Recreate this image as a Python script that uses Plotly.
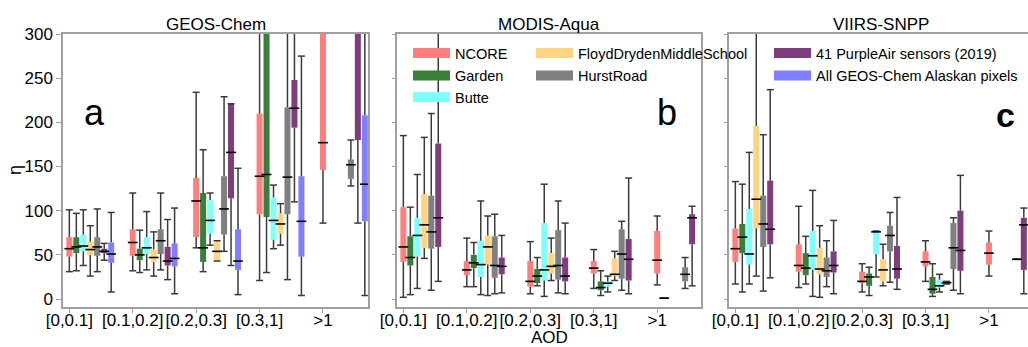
import plotly.graph_objects as go

# ---------------- data ----------------
groups = ["[0,0.1]", "[0.1,0.2]", "[0.2,0.3]", "[0.3,1]", ">1"]
series = ["NCORE", "Garden", "Butte", "FloydDrydenMiddleSchool", "HurstRoad",
          "41 PurpleAir sensors (2019)", "All GEOS-Chem Alaskan pixels"]
colors = ["#ff7f7f", "#3b7d3b", "#80ffff", "#ffd480", "#808080", "#7f3c7f", "#8080ff"]
panel_titles = ["GEOS-Chem", "MODIS-Aqua", "VIIRS-SNPP"]
panel_letters = ["a", "b", "c"]
N = None

# GEOS-Chem (rows = series, columns = AOD bins)
gc_lo = [[31, 32, 58, 21, 86], [32, 30, 31, 30, N], [38, 33, 61, 57, N], [26, 26, 43, 61, N],
         [31, 33, 54, 22, 128], [44, 22, 38, 110, 86], [8, 6, 5, 4, 4]]
gc_q1 = [[48, 49, 70, 96, 146], [52, 44, 42, 93, N], [54, 51, 74, 67, N], [50, 42, 43, 74, N],
         [49, 51, 73, 96, 136], [52, 38, 114, 194, 180], [41, 37, 33, 48, 88]]
gc_med = [[57, 64, 111, 139, 177], [59, 50, 58, 141, N], [60, 58, 89, 89, N], [56, 47, 54, 85, N],
          [59, 66, 102, 138, 152], [54, 43, 166, 216, 330], [51, 46, 43, 88, 130]]
gc_q3 = [[70, 79, 137, 210, 340], [70, 57, 120, 330, N], [73, 70, 112, 115, N], [65, 56, 65, 97, N],
         [70, 79, 139, 217, 158], [57, 59, 221, 248, 420], [64, 63, 79, 139, 208]]
gc_hi = [[101, 120, 234, 360, 420], [97, 78, 169, 420, N], [101, 99, 120, 129, N], [83, 76, 66, 108, N],
         [102, 120, 229, 380, 180], [63, 90, 221, 360, 520], [98, 103, 148, 275, 380]]

# MODIS-Aqua
mo_lo = [[2, 14, 6, 12, 16], [5, 14, 15, 4, 1], [12, 5, 3, 8, N], [46, 4, 21, 21, N],
         [10, 6, 7, 10, 12], [20, 7, 6, 6, 15], [N, N, N, N, N]]
mo_q1 = [[42, 27, 14, 29, 29], [38, 35, 18, 10, 1], [48, 25, 21, 14, N], [58, 39, 29, 26, N],
         [57, 24, 22, 23, 20], [59, 28, 20, 21, 62], [N, N, N, N, N]]
mo_med = [[59, 33, 20, 35, 44], [47, 41, 26, 13, 1], [72, 39, 33, 18, N], [84, 59, 37, 28, N],
          [76, 38, 38, 51, 28], [92, 37, 26, 45, 92], [N, N, N, N, N]]
mo_q3 = [[104, 43, 43, 43, 77], [71, 50, 34, 20, 1], [92, 66, 86, 20, N], [119, 72, 52, 46, N],
         [117, 71, 78, 79, 36], [176, 47, 47, 68, 96], [N, N, N, N, N]]
mo_hi = [[185, 69, 65, 56, 94], [104, 64, 47, 32, 1], [141, 111, 130, 26, N], [183, 94, 69, 54, N],
         [210, 96, 111, 88, 47], [330, 72, 86, 137, 105], [N, N, N, N, N]]

# VIIRS-SNPP
vi_lo = [[17, 13, 8, 20, 26], [8, 17, 4, 3, N], [17, 3, 25, 8, N], [26, 2, 15, 17, N],
         [9, 14, 19, 10, 45], [24, 6, 11, 6, 6], [N, N, N, N, N]]
vi_q1 = [[42, 31, 18, 37, 39], [52, 27, 15, 6, N], [39, 33, 51, 13, N], [80, 28, 20, 17, N],
         [59, 25, 54, 34, 45], [62, 30, 23, 32, 33], [N, N, N, N, N]]
vi_med = [[57, 38, 20, 42, 52], [70, 35, 25, 11, N], [51, 49, 76, 15, N], [113, 34, 33, 18.5, N],
          [85, 32, 72, 58, 45], [79, 38, 34, 55, 84], [N, N, N, N, N]]
vi_q3 = [[80, 62, 31, 54, 64], [85, 52, 29, 25, N], [102, 77, 76, 22, N], [196, 58, 45, 20, N],
         [117, 47, 83, 86, 45], [134, 54, 60, 100, 92], [N, N, N, N, N]]
vi_hi = [[133, 105, 40, 66, 77], [130, 71, 36, 40, N], [166, 123, 77, 28, N], [330, 83, 62, 20, N],
         [186, 66, 98, 92, 45], [237, 89, 115, 140, 103], [N, N, N, N, N]]

panel_stats = [
    (gc_lo, gc_q1, gc_med, gc_q3, gc_hi),
    (mo_lo, mo_q1, mo_med, mo_q3, mo_hi),
    (vi_lo, vi_q1, vi_med, vi_q3, vi_hi),
]

# ---------------- layout constants ----------------
W, H = 1028, 347
MT, MB = 34, 40
PH = H - MT - MB
FONT = "Liberation Sans, Arial, sans-serif"
SPACING = 0.11
BOXW = 0.095
WHISK = "#3a3a3a"
SPINE = "#a0a0a0"


def py(p):
    return (H - MB - p) / PH


fig = go.Figure()
axes = [("x", "y"), ("x2", "y2"), ("x3", "y3")]
for p, (xa, ya) in enumerate(axes):
    lo_a, q1_a, med_a, q3_a, hi_a = panel_stats[p]
    for s in range(len(series)):
        xs, base, height, meds = [], [], [], []
        wx, wy, cx, cy = [], [], [], []
        for g in range(len(groups)):
            lo = lo_a[s][g]
            if lo is None:
                continue
            q1, med, q3, hi = q1_a[s][g], med_a[s][g], q3_a[s][g], hi_a[s][g]
            x = g + s * SPACING
            xs.append(x)
            base.append(q1)
            height.append(q3 - q1)
            meds.append(med)
            wx += [x, x, None, x, x, None]
            wy += [lo, q1, None, q3, hi, None]
            cx += [x, x]
            cy += [lo, hi]
        if not xs:
            continue
        common = dict(xaxis=xa, yaxis=ya, showlegend=False, hoverinfo="skip")
        fig.add_trace(go.Bar(x=xs, y=height, base=base, width=BOXW,
                             marker=dict(color=colors[s], line=dict(width=0)), **common))
        fig.add_trace(go.Scatter(x=wx, y=wy, mode="lines",
                                 line=dict(color=WHISK, width=1.5), **common))
        fig.add_trace(go.Scatter(x=cx, y=cy, mode="markers",
                                 marker=dict(symbol="line-ew", size=5,
                                             line=dict(color=WHISK, width=1.5)), **common))
        fig.add_trace(go.Scatter(x=xs, y=meds, mode="markers",
                                 marker=dict(symbol="line-ew", size=7,
                                             line=dict(color="black", width=1.6)), **common))

# legend entries (one legend box per entry to reproduce the column layout)
legend_px = [(413, 53), (413, 75.5), (413, 97), (536, 53), (536, 75.5), (774, 53), (774, 75.5)]
layout_legends = {}
for i, name in enumerate(series):
    key = "legend" if i == 0 else f"legend{i + 1}"
    fig.add_trace(go.Scatter(x=[None], y=[None], mode="lines", name=name,
                             line=dict(color=colors[i], width=11), legend=key,
                             hoverinfo="skip"))
    lx, ly = legend_px[i]
    layout_legends[key] = dict(x=(lx - 5) / W, xanchor="left", y=py(ly), yanchor="middle",
                               bgcolor="rgba(0,0,0,0)", borderwidth=0, itemwidth=37,
                               font=dict(family=FONT, size=14.5, color="black"))

domains = [[63 / W, 368 / W], [397 / W, 701 / W], [729 / W, 1.0]]
xranges = [[-0.1, 4.71], [-0.1, 4.69], [-0.1, 4.616]]

layout = dict(
    width=W, height=H, margin=dict(l=0, r=0, t=MT, b=MB, autoexpand=False),
    paper_bgcolor="white", plot_bgcolor="white",
    barmode="overlay", showlegend=True,
    font=dict(family=FONT, size=17, color="black"),
)
layout.update(layout_legends)

for p in range(3):
    xk = "xaxis" if p == 0 else f"xaxis{p + 1}"
    yk = "yaxis" if p == 0 else f"yaxis{p + 1}"
    ysuf = "y" if p == 0 else f"y{p + 1}"
    xsuf = "x" if p == 0 else f"x{p + 1}"
    layout[xk] = dict(domain=domains[p], range=xranges[p], anchor=ysuf,
                      tickmode="array", tickvals=list(range(len(groups))), ticktext=groups,
                      tickangle=0, automargin=False, ticklabelstandoff=-7,
                      showgrid=False, zeroline=False, showline=True, linecolor=SPINE,
                      linewidth=1.5, mirror=True, ticks="outside", ticklen=4,
                      tickcolor=SPINE, tickwidth=1.2,
                      tickfont=dict(family=FONT, size=17, color="black"))
    layout[yk] = dict(domain=[0, 1], range=[-9, 300], anchor=xsuf, automargin=False,
                      tickvals=[0, 50, 100, 150, 200, 250, 300],
                      showticklabels=(p == 0),
                      showgrid=False, zeroline=False, showline=True, linecolor=SPINE,
                      linewidth=1.5, mirror=(p < 2), ticks="outside",
                      ticklen=5 if p == 0 else 3, tickcolor=SPINE, tickwidth=1.2,
                      tickfont=dict(family=FONT, size=17, color="black"))

annotations = []
title_x = [215.5, 549, 881]
for p in range(3):
    annotations.append(dict(text=panel_titles[p], x=title_x[p] / W, y=py(25), xref="paper",
                            yref="paper", showarrow=False, xanchor="center", yanchor="middle",
                            font=dict(family=FONT, size=17, color="black")))
letter_px = [(94, 113), (667, 112), (1005, 115)]
letter_fonts = [dict(size=36), dict(size=36), dict(size=34, weight="bold")]
for p in range(3):
    lx, ly = letter_px[p]
    annotations.append(dict(text=panel_letters[p], x=lx / W, y=py(ly), xref="paper",
                            yref="paper", showarrow=False, xanchor="center", yanchor="middle",
                            font=dict(family=FONT, color="black", **letter_fonts[p])))
annotations.append(dict(text="AOD", x=549 / W, y=py(337.5), xref="paper", yref="paper",
                        showarrow=False, xanchor="center", yanchor="middle",
                        font=dict(family=FONT, size=17, color="black")))
annotations.append(dict(text="η", x=15 / W, y=py(170), xref="paper", yref="paper",
                        showarrow=False, xanchor="center", yanchor="middle", textangle=-90,
                        font=dict(family=FONT, size=18, color="black")))
layout["annotations"] = annotations

fig.update_layout(**layout)
fig.write_html("out.html", config={"displayModeBar": False},
               post_script="document.body.style.margin='0';document.body.style.padding='0';")
